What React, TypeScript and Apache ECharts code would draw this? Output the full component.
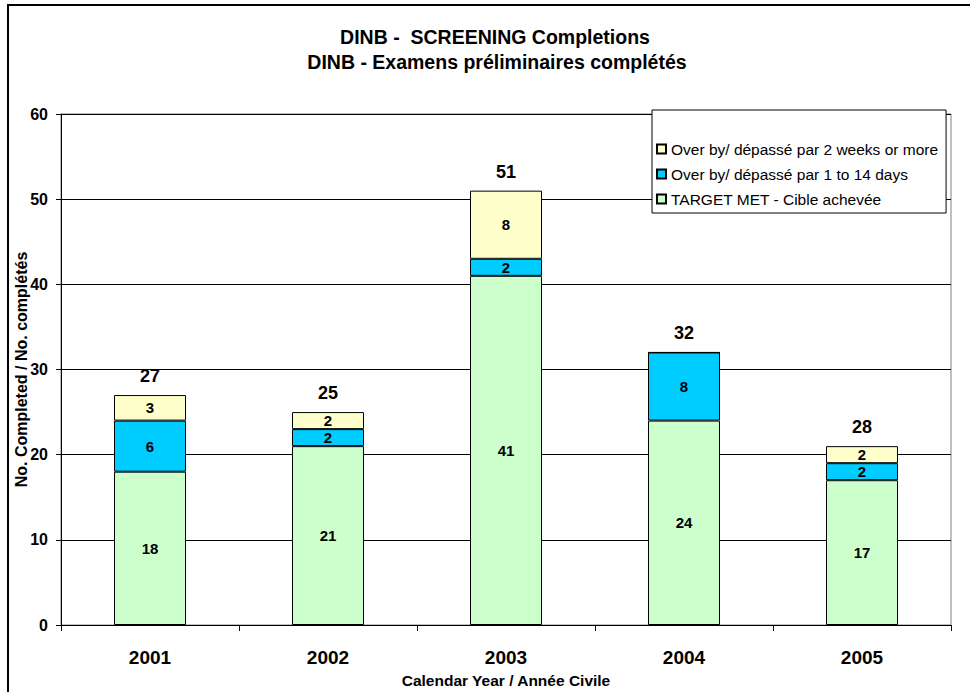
import React, { useEffect, useRef } from "react";
import * as echarts from "echarts";

const years = ["2001", "2002", "2003", "2004", "2005"];
const targetMet = [18, 21, 41, 24, 17];
const over1to14 = [6, 2, 2, 8, 2];
const over2weeks = [3, 2, 8, 0, 2];
const totalLabels = [27, 25, 51, 32, 28];
const yTicks = { min: 0, max: 60, interval: 10 };

const FONT = "'Liberation Sans', Arial, sans-serif";

export default function App() {
  const ref = useRef<HTMLDivElement>(null);
  useEffect(() => {
    if (!ref.current) return;
    const chart = echarts.init(ref.current, null, { renderer: "svg" });
    const stackTops = years.map((_, i) => targetMet[i] + over1to14[i] + over2weeks[i]);
    const inLabel = {
      show: true,
      position: "inside",
      color: "#000",
      fontFamily: FONT,
      fontWeight: "bold",
      fontSize: 15,
      formatter: (p: any) => (p.value ? String(p.value) : ""),
    };
    const border = { borderColor: "#000", borderWidth: 1 };
    chart.setOption({
      animation: false,
      backgroundColor: "#fff",
      textStyle: { fontFamily: FONT },
      graphic: [
        {
          type: "rect",
          shape: { x: 8, y: 5, width: 980, height: 720 },
          style: { fill: "none", stroke: "#000", lineWidth: 2 },
          silent: true,
          z: -1,
        },
        {
          type: "text",
          x: 495,
          y: 37,
          style: {
            text: "DINB -  SCREENING Completions",
            font: `bold 19.5px ${FONT}`,
            fill: "#000",
            textAlign: "center",
            textVerticalAlign: "middle",
          },
        },
        {
          type: "text",
          x: 497,
          y: 62,
          style: {
            text: "DINB - Examens préliminaires complétés",
            font: `bold 19.5px ${FONT}`,
            fill: "#000",
            textAlign: "center",
            textVerticalAlign: "middle",
          },
        },
      ],
      grid: {
        left: 61,
        top: 114,
        right: 19,
        bottom: 67,
        show: true,
        borderColor: "#808080",
        borderWidth: 1,
        backgroundColor: "#fff",
        containLabel: false,
        outerBoundsMode: "none",
      },
      legend: {
        orient: "vertical",
        left: 652,
        top: 110,
        padding: [31, 8, 6, 4],
        itemWidth: 9,
        itemHeight: 9,
        itemGap: 9,
        backgroundColor: "#fff",
        borderColor: "#000",
        borderWidth: 1,
        textStyle: { fontFamily: FONT, fontSize: 15.5, lineHeight: 16, color: "#000" },
        data: [
          { name: "Over by/ dépassé par 2 weeks or more", icon: "rect" },
          { name: "Over by/ dépassé par 1 to 14 days", icon: "rect" },
          { name: "TARGET MET - Cible achevée", icon: "rect" },
        ],
      },
      xAxis: {
        type: "category",
        data: years,
        axisLine: { lineStyle: { color: "#000", width: 1 } },
        axisTick: { show: true, length: 6, lineStyle: { color: "#000" } },
        axisLabel: {
          color: "#000",
          fontFamily: FONT,
          fontWeight: "bold",
          fontSize: 19,
          margin: 23,
        },
        name: "Calendar Year / Année Civile",
        nameLocation: "middle",
        nameGap: 47,
        nameTextStyle: { color: "#000", fontFamily: FONT, fontWeight: "bold", fontSize: 15.5 },
      },
      yAxis: {
        type: "value",
        min: yTicks.min,
        max: yTicks.max,
        interval: yTicks.interval,
        axisLine: { show: true, lineStyle: { color: "#000", width: 1 } },
        axisTick: { show: true, length: 5, lineStyle: { color: "#000" } },
        splitLine: { show: true, lineStyle: { color: "#000", width: 1 } },
        axisLabel: {
          color: "#000",
          fontFamily: FONT,
          fontWeight: "bold",
          fontSize: 16,
          margin: 13,
        },
        name: "No. Completed / No. complétés",
        nameLocation: "middle",
        nameGap: 32,
        nameMoveOverlap: false,
        nameTextStyle: { color: "#000", fontFamily: FONT, fontWeight: "bold", fontSize: 16 },
      },
      series: [
        {
          name: "TARGET MET - Cible achevée",
          type: "bar",
          stack: "s",
          barWidth: 72,
          data: targetMet,
          itemStyle: { color: "#CCFFCC", ...border },
          label: inLabel,
        },
        {
          name: "Over by/ dépassé par 1 to 14 days",
          type: "bar",
          stack: "s",
          data: over1to14,
          itemStyle: { color: "#00CCFF", ...border },
          label: inLabel,
        },
        {
          name: "Over by/ dépassé par 2 weeks or more",
          type: "bar",
          stack: "s",
          data: over2weeks,
          itemStyle: { color: "#FFFFCC", ...border },
          label: inLabel,
        },
        {
          name: "totals",
          type: "custom",
          silent: true,
          z: 5,
          data: stackTops.map((v, i) => [i, v]),
          renderItem: (params: any, api: any) => {
            const pt = api.coord([api.value(0), api.value(1)]);
            return {
              type: "text",
              x: pt[0],
              y: pt[1] - 10,
              style: {
                text: String(totalLabels[params.dataIndex]),
                font: `bold 18px ${FONT}`,
                fill: "#000",
                textAlign: "center",
                textVerticalAlign: "bottom",
              },
            };
          },
        },
      ],
    });
    return () => chart.dispose();
  }, []);
  return (
    <div
      ref={ref}
      style={{ position: "absolute", left: 0, top: 0, width: 970, height: 692 }}
    />
  );
}
